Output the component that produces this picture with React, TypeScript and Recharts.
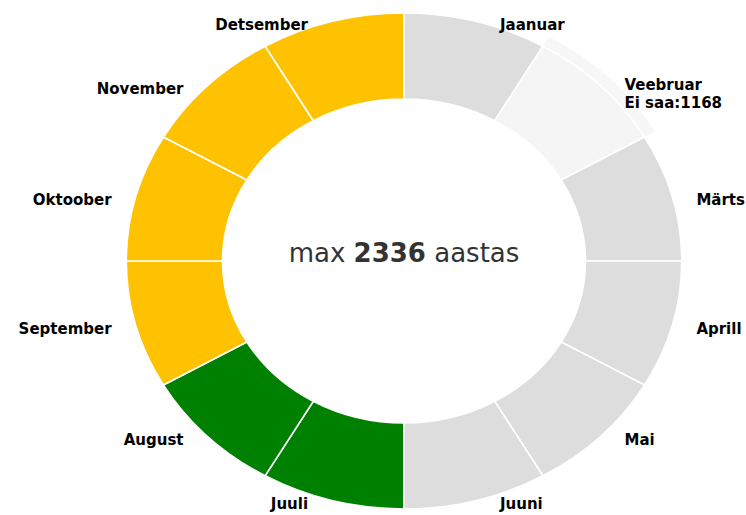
import { PieChart, Pie, Cell, Label } from 'recharts'

// kuud ja nende olek (kõik lõigud on võrdse suurusega)
const months = [
  'Jaanuar',
  'Veebruar',
  'Märts',
  'Aprill',
  'Mai',
  'Juuni',
  'Juuli',
  'August',
  'September',
  'Oktoober',
  'November',
  'Detsember',
]
const values = [1, 1, 1, 1, 1, 1, 1, 1, 1, 1, 1, 1]
const statuses = [
  'vaba',
  'vaba',
  'vaba',
  'vaba',
  'vaba',
  'vaba',
  'roheline',
  'roheline',
  'kollane',
  'kollane',
  'kollane',
  'kollane',
]

// hiire all olev kuu ja selle väärtus
const highlightedMonth = 'Veebruar'
const highlightedText = 'Ei saa'
const highlightedCount = 1168
const maxPerYear = 2336

const statusColors: Record<string, string> = {
  vaba: '#dddddd',
  roheline: '#008000',
  kollane: '#ffc200',
}
const HOVER_COLOR = '#f5f5f5'

// originaal on horisontaalselt venitatud
const STRETCH = 1.12
const CX = 404
const CY = 261
const OUTER = 248
const INNER = 162

const data = months.map((name, i) => ({
  name,
  value: values[i],
  status: statuses[i],
}))

const RADIAN = Math.PI / 180
const labelFont = '"DejaVu Sans", Verdana, sans-serif'

function renderMonthLabel(props: any) {
  const { cx, cy, midAngle, outerRadius, name } = props
  const cos = Math.cos(midAngle * RADIAN)
  const sin = Math.sin(midAngle * RADIAN)
  const side = cos >= 0 ? 1 : -1
  const x = cx + outerRadius * cos + side * 21.5
  const y = cy - outerRadius * sin + 3.5
  const anchor = side > 0 ? 'start' : 'end'
  const isHover = name === highlightedMonth
  return (
    <g transform={`translate(${x},${y}) scale(${1 / STRETCH},1)`}>
      <text
        x={0}
        y={isHover ? -4 : 0}
        textAnchor={anchor}
        dominantBaseline="central"
        fontFamily={labelFont}
        fontSize={15}
        fontWeight="bold"
        fill="#000000"
      >
        {name}
      </text>
      {isHover && (
        <text
          x={0}
          y={14}
          textAnchor={anchor}
          dominantBaseline="central"
          fontFamily={labelFont}
          fontSize={15}
          fontWeight="bold"
          fill="#000000"
        >
          {`${highlightedText}:${highlightedCount}`}
        </text>
      )}
    </g>
  )
}

function CenterText(props: any) {
  const vb = props.viewBox || {}
  const cx = vb.cx ?? CX
  const cy = vb.cy ?? CY
  return (
    <g transform={`translate(${cx},${cy}) scale(${1 / STRETCH},1)`}>
      <text
        x={0}
        y={1}
        textAnchor="middle"
        fontFamily={labelFont}
        fontSize={26}
        fill="#333333"
      >
        <tspan>max </tspan>
        <tspan fontWeight="bold">{maxPerYear}</tspan>
        <tspan> aastas</tspan>
      </text>
    </g>
  )
}

export default function App() {
  return (
    <div
      style={{
        position: 'absolute',
        left: 0,
        top: 0,
        width: 746,
        height: 515,
        overflow: 'hidden',
        background: '#ffffff',
      }}
    >
      <div style={{ transform: `scaleX(${STRETCH})`, transformOrigin: `${CX}px 0px` }}>
        <PieChart width={746} height={515} margin={{ top: 0, right: 0, bottom: 0, left: 0 }}>
          {/* hover halo */}
          <Pie
            data={data}
            dataKey="value"
            cx={CX}
            cy={CY}
            startAngle={90}
            endAngle={-270}
            innerRadius={OUTER}
            outerRadius={OUTER + 11}
            stroke="none"
            isAnimationActive={false}
          >
            {data.map((d) => (
              <Cell
                key={d.name}
                fill={d.name === highlightedMonth ? '#f7f7f7' : 'transparent'}
              />
            ))}
          </Pie>
          <Pie
            data={data}
            dataKey="value"
            cx={CX}
            cy={CY}
            startAngle={90}
            endAngle={-270}
            innerRadius={INNER}
            outerRadius={OUTER}
            stroke="#ffffff"
            strokeWidth={1.5}
            label={renderMonthLabel}
            labelLine={false}
            isAnimationActive={false}
          >
            {data.map((d) => (
              <Cell
                key={d.name}
                fill={d.name === highlightedMonth ? HOVER_COLOR : statusColors[d.status]}
              />
            ))}
            <Label position="center" content={<CenterText />} />
          </Pie>
        </PieChart>
      </div>
    </div>
  )
}
